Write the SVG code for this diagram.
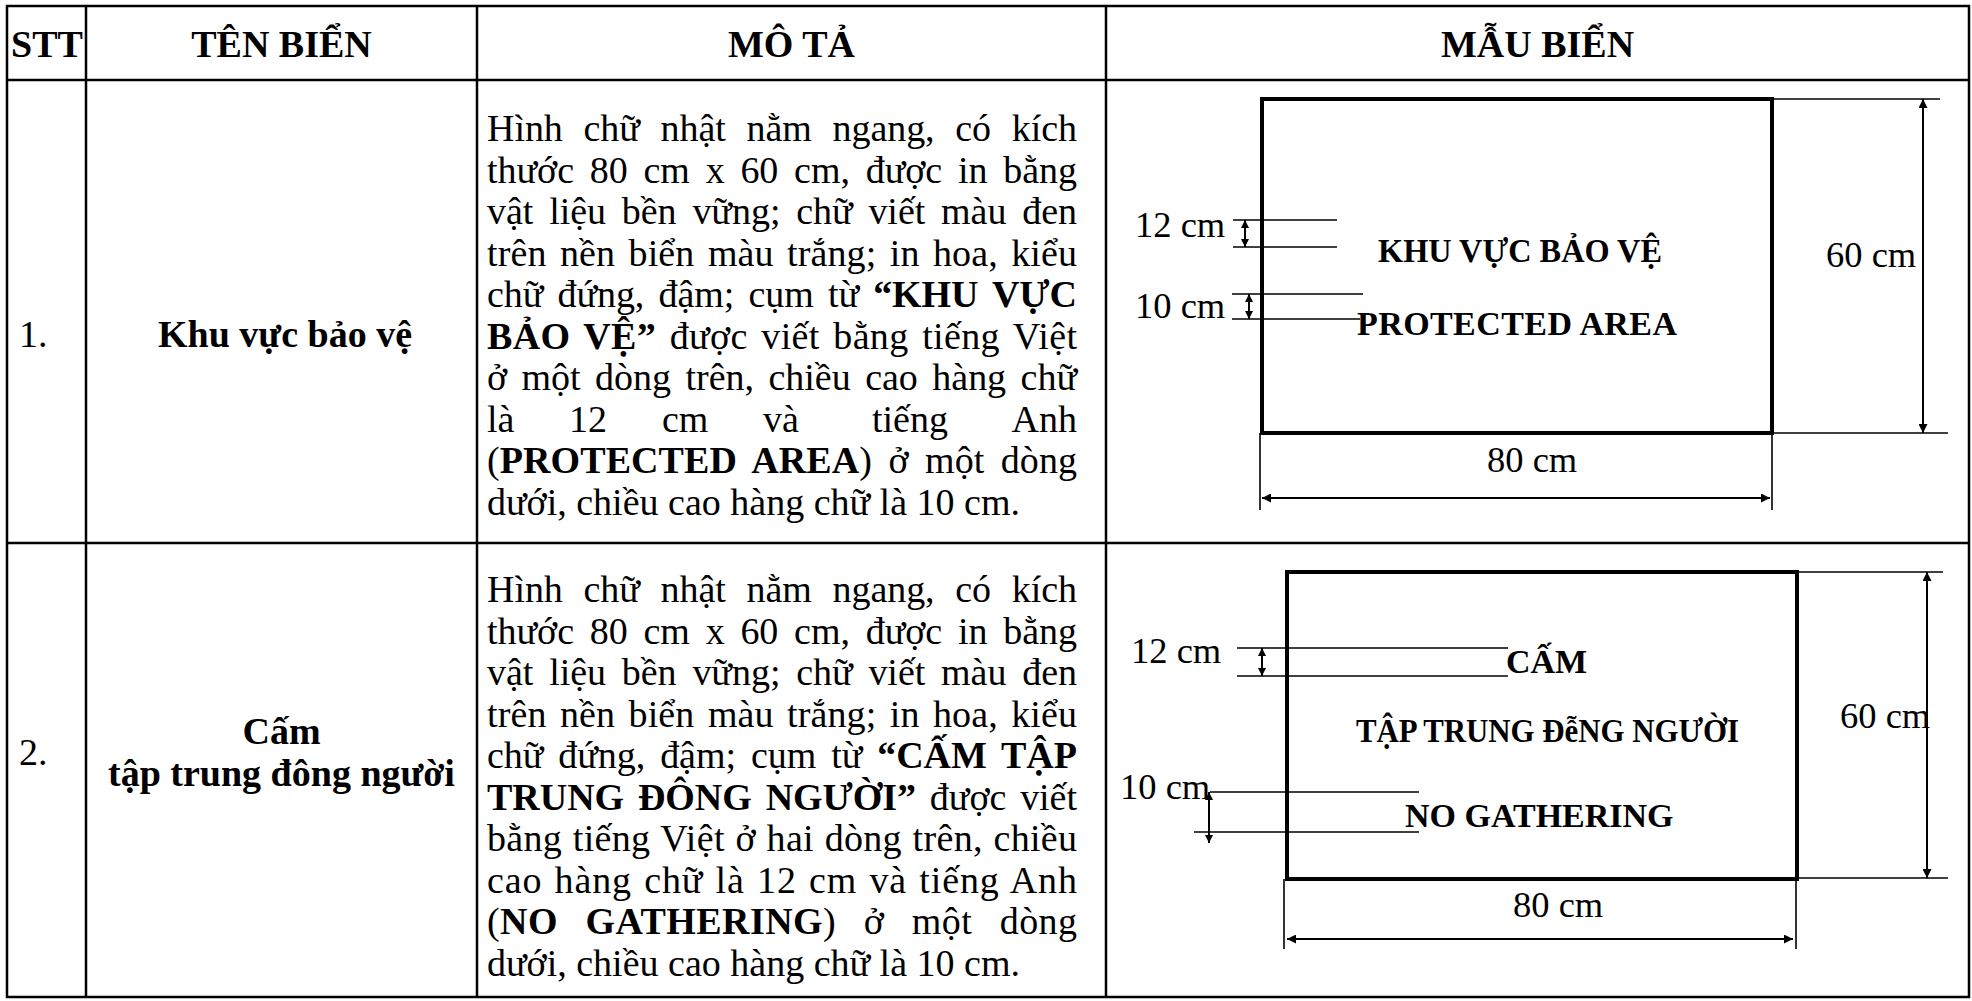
<svg xmlns="http://www.w3.org/2000/svg" width="1972" height="1001" viewBox="0 0 1972 1001">
<style>
.grid{fill:none;stroke:#000;stroke-width:2.5}
.sign{fill:none;stroke:#000;stroke-width:4}
.ext{stroke:#000;stroke-width:1.6;fill:none}
.dim{stroke:#000;stroke-width:2;fill:none;marker-start:url(#ah);marker-end:url(#ah)}
.dims{stroke:#000;stroke-width:2;fill:none;marker-start:url(#ahs);marker-end:url(#ahs)}
text{font-family:"Liberation Serif","Times New Roman","DejaVu Serif",serif;fill:#000}
.d{font-size:38px}
.h{font-size:38px;font-weight:bold;text-anchor:middle}
.n{font-size:38px;font-weight:bold}
.c{text-anchor:middle}
.lbl{font-size:36.5px}
.st{font-size:34px;font-weight:bold}
.b{font-weight:bold}
</style>
<defs>
<marker id="ah" viewBox="0 0 10 10" refX="10" refY="5" markerWidth="12" markerHeight="9" markerUnits="userSpaceOnUse" orient="auto-start-reverse"><path d="M0,0 L10,5 L0,10 z" fill="#000"/></marker>
<marker id="ahs" viewBox="0 0 10 10" refX="10" refY="5" markerWidth="9" markerHeight="8" markerUnits="userSpaceOnUse" orient="auto-start-reverse"><path d="M0,0 L10,5 L0,10 z" fill="#000"/></marker>
</defs>
<rect width="1972" height="1001" fill="#fff"/>

<g id="table">
<rect class="grid" x="7" y="6" width="1962" height="991"/>
<line class="grid" x1="7" y1="80" x2="1969" y2="80"/>
<line class="grid" x1="7" y1="543" x2="1969" y2="543"/>
<line class="grid" x1="86" y1="6" x2="86" y2="997"/>
<line class="grid" x1="477" y1="6" x2="477" y2="997"/>
<line class="grid" x1="1106" y1="6" x2="1106" y2="997"/>
</g>

<g id="header">
<text class="h" x="47" y="57">STT</text>
<text class="h" x="281.5" y="57">TÊN BIỂN</text>
<text class="h" x="791.5" y="57">MÔ TẢ</text>
<text class="h" x="1537.5" y="57">MẪU BIỂN</text>
</g>

<g id="row1-name">
<text class="d" x="19" y="347">1.</text>
<text class="n c" x="285" y="347">Khu vực bảo vệ</text>
</g>

<g id="row1-desc">
<text class="d" x="487" y="141" word-spacing="11.3" textLength="590" lengthAdjust="spacing">Hình chữ nhật nằm ngang, có kích</text>
<text class="d" x="487" y="182.5" word-spacing="6.3" textLength="590" lengthAdjust="spacing">thước 80 cm x 60 cm, được in bằng</text>
<text class="d" x="487" y="224" word-spacing="6.3" textLength="590" lengthAdjust="spacing">vật liệu bền vững; chữ viết màu đen</text>
<text class="d" x="487" y="265.5" word-spacing="3.8" textLength="590" lengthAdjust="spacing">trên nền biển màu trắng; in hoa, kiểu</text>
<text class="d" x="487" y="307" word-spacing="4.8" textLength="590" lengthAdjust="spacing">chữ đứng, đậm; cụm từ <tspan class="b">“KHU VỰC</tspan></text>
<text class="d" x="487" y="348.5" word-spacing="3.7" textLength="590" lengthAdjust="spacing"><tspan class="b">BẢO VỆ”</tspan> được viết bằng tiếng Việt</text>
<text class="d" x="487" y="390" word-spacing="5" textLength="590" lengthAdjust="spacing">ở một dòng trên, chiều cao hàng chữ</text>
<text class="d" y="431.5"><tspan x="487">là</tspan><tspan x="569">12</tspan><tspan x="662">cm</tspan><tspan x="763">và</tspan><tspan x="872">tiếng</tspan><tspan x="1077" text-anchor="end">Anh</tspan></text>
<text class="d" x="487" y="473" word-spacing="6.8" textLength="590" lengthAdjust="spacing">(<tspan class="b">PROTECTED AREA</tspan>) ở một dòng</text>
<text class="d" x="487" y="514.5">dưới, chiều cao hàng chữ là 10 cm.</text>
</g>

<g id="row1-sign">
<rect class="sign" x="1262" y="99" width="510" height="334"/>
<text class="st" x="1378" y="262" textLength="284" lengthAdjust="spacingAndGlyphs">KHU VỰC BẢO VỆ</text>
<text class="st" x="1357" y="335" textLength="320" lengthAdjust="spacing">PROTECTED AREA</text>
<text class="lbl" x="1135" y="237">12 cm</text>
<text class="lbl" x="1135" y="318">10 cm</text>
<text class="lbl" x="1826" y="267">60 cm</text>
<text class="lbl" x="1487" y="472">80 cm</text>
</g>

<g id="row2-name">
<text class="d" x="19" y="765">2.</text>
<text class="n c" x="281.5" y="744">Cấm</text>
<text class="n c" x="281.5" y="786">tập trung đông người</text>
</g>

<g id="row2-desc">
<text class="d" x="487" y="602" word-spacing="11.3" textLength="590" lengthAdjust="spacing">Hình chữ nhật nằm ngang, có kích</text>
<text class="d" x="487" y="643.5" word-spacing="6.3" textLength="590" lengthAdjust="spacing">thước 80 cm x 60 cm, được in bằng</text>
<text class="d" x="487" y="685" word-spacing="6.3" textLength="590" lengthAdjust="spacing">vật liệu bền vững; chữ viết màu đen</text>
<text class="d" x="487" y="726.5" word-spacing="3.8" textLength="590" lengthAdjust="spacing">trên nền biển màu trắng; in hoa, kiểu</text>
<text class="d" x="487" y="768" word-spacing="5.4" textLength="590" lengthAdjust="spacing">chữ đứng, đậm; cụm từ <tspan class="b">“CẤM TẬP</tspan></text>
<text class="d" x="487" y="809.5" word-spacing="4.4" textLength="590" lengthAdjust="spacing"><tspan class="b">TRUNG ĐÔNG NGƯỜI”</tspan> được viết</text>
<text class="d" x="487" y="851" word-spacing="0.9" textLength="590" lengthAdjust="spacing">bằng tiếng Việt ở hai dòng trên, chiều</text>
<text class="d" x="487" y="892.5" word-spacing="1.85" textLength="590" lengthAdjust="spacing">cao hàng chữ là 12 cm và tiếng Anh</text>
<text class="d" x="487" y="934" word-spacing="17.6" textLength="590" lengthAdjust="spacing">(<tspan class="b">NO GATHERING</tspan>) ở một dòng</text>
<text class="d" x="487" y="975.5">dưới, chiều cao hàng chữ là 10 cm.</text>
</g>

<g id="row2-sign">
<rect class="sign" x="1287" y="572" width="510" height="307"/>
<text class="st" x="1506" y="673">CẤM</text>
<text class="st" x="1356" y="742" textLength="383" lengthAdjust="spacingAndGlyphs">TẬP TRUNG ĐễNG NGƯỜI</text>
<text class="st" x="1405" y="827">NO GATHERING</text>
<text class="lbl" x="1131" y="663">12 cm</text>
<text class="lbl" x="1120" y="799">10 cm</text>
<text class="lbl" x="1840" y="728">60 cm</text>
<text class="lbl" x="1513" y="917">80 cm</text>
</g>

<g id="connectors">
<line class="ext" x1="1772" y1="99" x2="1940" y2="99"/>
<line class="ext" x1="1772" y1="433" x2="1948" y2="433"/>
<line class="ext" x1="1260" y1="433" x2="1260" y2="510"/>
<line class="ext" x1="1772" y1="433" x2="1772" y2="510"/>
<line class="ext" x1="1233" y1="220" x2="1337" y2="220"/>
<line class="ext" x1="1233" y1="247" x2="1337" y2="247"/>
<line class="ext" x1="1232" y1="294" x2="1363" y2="294"/>
<line class="ext" x1="1232" y1="319" x2="1360" y2="319"/>
<line class="dim" x1="1923" y1="99" x2="1923" y2="433"/>
<line class="dim" x1="1262" y1="498" x2="1770" y2="498"/>
<line class="dims" x1="1245" y1="220" x2="1245" y2="247"/>
<line class="dims" x1="1249" y1="294" x2="1249" y2="319"/>

<line class="ext" x1="1797" y1="572" x2="1943" y2="572"/>
<line class="ext" x1="1778" y1="878" x2="1948" y2="878"/>
<line class="ext" x1="1284" y1="879" x2="1284" y2="949"/>
<line class="ext" x1="1796" y1="879" x2="1796" y2="949"/>
<line class="ext" x1="1237" y1="648" x2="1508" y2="648"/>
<line class="ext" x1="1237" y1="676" x2="1508" y2="676"/>
<line class="ext" x1="1210" y1="792" x2="1419" y2="792"/>
<line class="ext" x1="1194" y1="832" x2="1419" y2="832"/>
<line class="dim" x1="1927" y1="572" x2="1927" y2="878"/>
<line class="dim" x1="1287" y1="939" x2="1793" y2="939"/>
<line class="dims" x1="1262" y1="648" x2="1262" y2="676"/>
<line class="dims" x1="1209" y1="792" x2="1209" y2="843"/>
</g>
</svg>
